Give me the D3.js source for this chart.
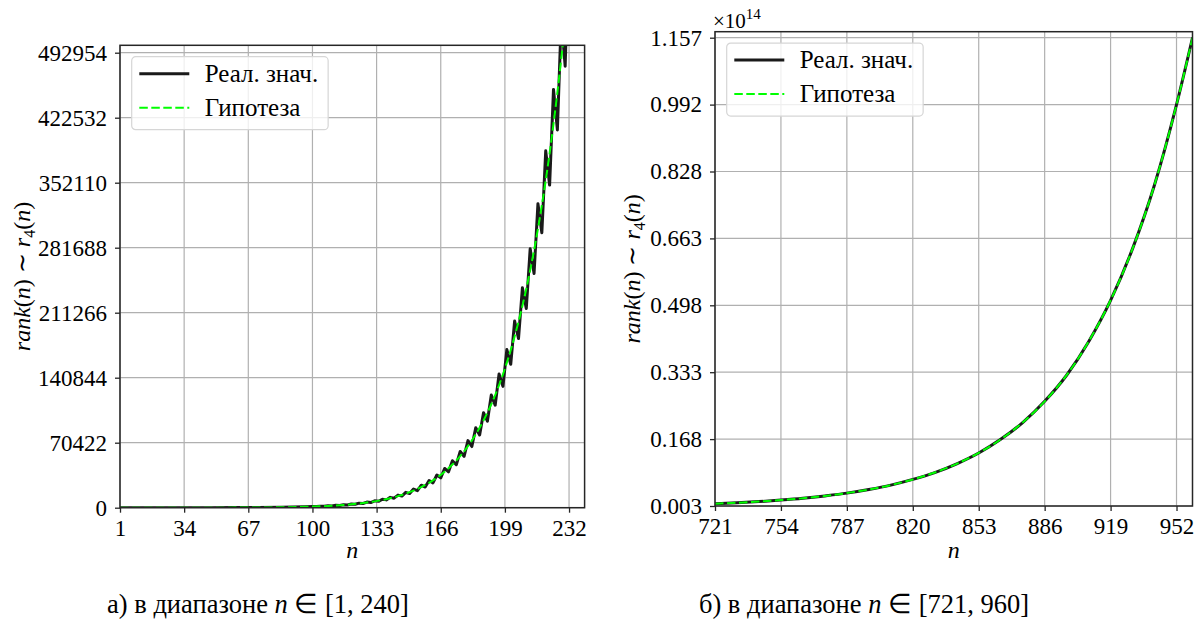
<!doctype html>
<html lang="ru">
<head>
<meta charset="utf-8" />
<title>rank(n) ~ r4(n)</title>
<script src="https://cdn.jsdelivr.net/npm/d3@7"></script>
<style>
	body { margin: 0; background: #fff; }
</style>
</head>
<body>
<svg id="chart" width="1199" height="628"></svg>
<script>
// panel a) n in [1, 240]
const leftXTicks = [1, 34, 67, 100, 133, 166, 199, 232];
const leftYTicks = [0, 70422, 140844, 211266, 281688, 352110, 422532, 492954];
const leftYTickLabels = ["0", "70422", "140844", "211266", "281688", "352110", "422532", "492954"];
// real values: turning points of the sawtooth (coarse below n = 100)
const leftRealN = [1, 12, 24, 36, 48, 60, 72, 84, 96,
	100, 102, 104, 106, 108, 110, 112, 114, 116, 118, 120, 122, 124, 126, 128, 130, 132, 134, 136, 138,
	140, 142, 144, 146, 148, 150, 152, 154, 156, 158, 160, 162, 164, 166, 168, 170, 172, 174, 176, 178,
	180, 182, 184, 186, 188, 190, 192, 194, 196, 198, 200, 202, 204, 206, 208, 210, 212, 214, 216, 218,
	220, 222, 224, 226, 228, 230, 232, 234, 236];
const leftReal = [1, 1, 3, 12, 33, 90, 214, 480, 1016,
	1291, 1211, 1630, 1525, 2049, 1915, 2566, 2392, 3201, 2978, 3977, 3696, 4928, 4569, 6080, 5629, 7477, 6912, 9171, 8466,
	11211, 10332, 13669, 12586, 16628, 15282, 20149, 18496, 24372, 22352, 29414, 26934, 35392, 32379, 42499, 38842, 50925, 46499, 60920, 55561,
	72714, 66254, 86633, 78862, 102983, 93655, 122189, 111057, 144807, 131488, 171294, 155391, 202250, 183296, 238274, 215821, 280457, 253784, 329398, 297899,
	386623, 349518, 453222, 409253, 530285, 478386, 619011, 558422, 722997];
const leftHypN = [1, 12, 24, 36, 48, 60, 72, 84, 96, 100, 104, 108, 112, 116, 120, 124, 128, 132, 136, 140,
	144, 148, 152, 156, 160, 164, 168, 172, 176, 180, 184, 188, 192, 196, 200, 204, 208, 212, 216, 220,
	224, 228, 232, 236, 240];
const leftHyp = [0.03, 0.5, 2.9, 10.5, 31.5, 82.8, 198, 442, 932, 1184, 1495, 1880, 2354, 2937, 3649, 4521, 5578, 6860, 8414, 10285,
	12540, 15255, 18485, 22360, 26985, 32470, 38990, 46720, 55890, 66710, 79480, 94480, 112100, 132850, 157150, 185550, 218600, 257300, 302200, 354700,
	415800, 486500, 567900, 663300, 773000];

// panel б) n in [721, 960], values in units of 1e14
const rightXTicks = [721, 754, 787, 820, 853, 886, 919, 952];
const rightYTicks = [0.003, 0.16786, 0.33271, 0.49757, 0.66243, 0.82729, 0.99214, 1.157];
const rightYTickLabels = ["0.003", "0.168", "0.333", "0.498", "0.663", "0.828", "0.992", "1.157"];
const rightN = [721, 732, 743, 754, 765, 776, 787, 798, 809, 820, 831, 842, 853, 864, 875, 886, 897, 908, 919, 930, 941, 952, 960];
const rightReal = [0.0086, 0.0110, 0.0138, 0.0176, 0.0221, 0.0279, 0.0347, 0.0437, 0.0545, 0.0685, 0.0854, 0.1071,
	0.1337, 0.1674, 0.2086, 0.2610, 0.3252, 0.4078, 0.5096, 0.6372, 0.7946, 0.9922, 1.1570];
const rightHyp = [0.0087, 0.0110, 0.0139, 0.0176, 0.0221, 0.0278, 0.0348, 0.0436, 0.0546, 0.0684, 0.0855, 0.1070,
	0.1338, 0.1672, 0.2088, 0.2607, 0.3254, 0.4080, 0.5100, 0.6370, 0.7950, 0.9920, 1.1570];

const legendNames = ["Реал. знач.", "Гипотеза"];

const FONT = "'Liberation Serif'";
const REAL_COLOR = "#1a1a1a";
const HYP_COLOR = "#00ff00";
const GRID_COLOR = "#b0b0b0";
const SPINE_COLOR = "#262626";
const TICK_FONT = 23;

const panels = [
	{
		id: "a", left: 120, right: 584.6, top: 45.3, bottom: 507.7,
		xDomain: [1, 240], yDomain: [0, 500980],
		xTicks: leftXTicks, yTicks: leftYTicks, yLabels: leftYTickLabels,
		realN: leftRealN, real: leftReal, hypN: leftHypN, hyp: leftHyp, realCurve: d3.curveLinear,
		yLabelX: 30, captionX: 258, captionRange: "[1, 240]", captionLetter: "а)",
	},
	{
		id: "b", left: 715, right: 1192.5, top: 31.7, bottom: 506,
		xDomain: [721, 960], yDomain: [0.003, 1.1718],
		xTicks: rightXTicks, yTicks: rightYTicks, yLabels: rightYTickLabels,
		realN: rightN, real: rightReal, hypN: rightN, hyp: rightHyp, realCurve: d3.curveMonotoneX,
		yLabelX: 640, captionX: 864, captionRange: "[721, 960]", captionLetter: "б)",
		multiplier: true,
	},
];

const svg = d3.select("#chart");

const drawPanel = (p) => {
	const x = d3.scaleLinear().domain(p.xDomain).range([p.left, p.right]);
	const y = d3.scaleLinear().domain(p.yDomain).range([p.bottom, p.top]);
	const g = svg.append("g");
	const w = p.right - p.left;
	const h = p.bottom - p.top;

	g.append("clipPath").attr("id", "clip-" + p.id)
		.append("rect").attr("x", p.left).attr("y", p.top).attr("width", w).attr("height", h);

	// grid
	const grid = g.append("g").attr("stroke", GRID_COLOR).attr("stroke-width", 1.2);
	grid.selectAll("line.gx").data(p.xTicks).join("line").attr("class", "gx")
		.attr("x1", (d) => x(d)).attr("x2", (d) => x(d)).attr("y1", p.top).attr("y2", p.bottom);
	grid.selectAll("line.gy").data(p.yTicks).join("line").attr("class", "gy")
		.attr("x1", p.left).attr("x2", p.right).attr("y1", (d) => y(d)).attr("y2", (d) => y(d));

	// lines
	const real = d3.zip(p.realN, p.real);
	const hyp = d3.zip(p.hypN, p.hyp);
	const lines = g.append("g").attr("clip-path", `url(#clip-${p.id})`).attr("fill", "none");
	lines.append("path").datum(real)
		.attr("d", d3.line().curve(p.realCurve).x((d) => x(d[0])).y((d) => y(d[1])))
		.attr("stroke", REAL_COLOR).attr("stroke-width", 3).attr("stroke-linejoin", "round");
	lines.append("path").datum(hyp)
		.attr("d", d3.line().curve(d3.curveMonotoneX).x((d) => x(d[0])).y((d) => y(d[1])))
		.attr("stroke", HYP_COLOR).attr("stroke-width", 2).attr("stroke-dasharray", "8.5,3.5");

	// axes
	const xAxis = g.append("g").attr("transform", `translate(0,${p.bottom})`)
		.call(d3.axisBottom(x).tickValues(p.xTicks).tickFormat(d3.format("d")).tickSize(5).tickPadding(7));
	const yAxis = g.append("g").attr("transform", `translate(${p.left},0)`)
		.call(d3.axisLeft(y).tickValues(p.yTicks).tickFormat((d, i) => p.yLabels[i]).tickSize(5).tickPadding(8));
	[xAxis, yAxis].forEach((a) => {
		a.select(".domain").remove();
		a.attr("font-family", null).attr("font-size", null);
		a.selectAll(".tick line").attr("stroke", SPINE_COLOR).attr("stroke-width", 1.3);
		a.selectAll(".tick text").style("font-family", FONT).style("font-size", TICK_FONT + "px").attr("fill", "#000");
	});

	// frame
	g.append("rect").attr("x", p.left).attr("y", p.top).attr("width", w).attr("height", h)
		.attr("fill", "none").attr("stroke", SPINE_COLOR).attr("stroke-width", 1.5);

	// legend
	const lg = g.append("g").attr("transform", `translate(${p.left + 11.7},${p.top + 11.4})`);
	const box = lg.append("rect").attr("rx", 4).attr("fill", "#fff").attr("fill-opacity", 0.8)
		.attr("stroke", "#d6d6d6").attr("stroke-width", 1.2);
	const rowsY = [17, 51];
	lg.append("line").attr("x1", 7.6).attr("x2", 57.6).attr("y1", rowsY[0]).attr("y2", rowsY[0])
		.attr("stroke", REAL_COLOR).attr("stroke-width", 3);
	lg.append("line").attr("x1", 7.6).attr("x2", 57.6).attr("y1", rowsY[1]).attr("y2", rowsY[1])
		.attr("stroke", HYP_COLOR).attr("stroke-width", 2).attr("stroke-dasharray", "8.5,3.5");
	const texts = lg.selectAll("text").data(legendNames).join("text")
		.attr("x", 73).attr("y", (d, i) => rowsY[i] + 8)
		.style("font-family", FONT).style("font-size", "25px").text((d) => d);
	const maxLen = d3.max(texts.nodes(), (n) => n.getComputedTextLength());
	box.attr("width", 73 + maxLen + 10).attr("height", 73);

	// axis labels
	g.append("text").attr("x", (p.left + p.right) / 2).attr("y", 558).attr("text-anchor", "middle")
		.style("font-family", FONT).style("font-size", "24px").style("font-style", "italic").text("n");
	const yl = g.append("text").attr("text-anchor", "middle")
		.style("font-family", FONT).style("font-size", "24px")
		.attr("transform", `translate(${p.yLabelX},${(p.top + p.bottom) / 2}) rotate(-90)`);
	yl.append("tspan").style("font-style", "italic").text("rank");
	yl.append("tspan").text("(");
	yl.append("tspan").style("font-style", "italic").text("n");
	yl.append("tspan").text(") ∼ ");
	yl.append("tspan").style("font-style", "italic").text("r");
	yl.append("tspan").style("font-size", "16px").attr("dy", 5).text("4");
	yl.append("tspan").attr("dy", -5).text("(");
	yl.append("tspan").style("font-style", "italic").text("n");
	yl.append("tspan").text(")");

	if (p.multiplier) {
		const m = g.append("text").attr("x", p.left - 2).attr("y", 28)
			.style("font-family", FONT).style("font-size", "21px");
		m.append("tspan").text("×10");
		m.append("tspan").style("font-size", "15px").attr("dy", -9).text("14");
	}

	// caption
	const cap = svg.append("text").attr("x", p.captionX).attr("y", 613).attr("text-anchor", "middle")
		.style("font-family", FONT).style("font-size", "26.5px");
	cap.append("tspan").text(p.captionLetter + " в диапазоне ");
	cap.append("tspan").style("font-style", "italic").text("n");
	cap.append("tspan").text(" ∈ " + p.captionRange);
};

panels.forEach(drawPanel);
</script>
</body>
</html>
